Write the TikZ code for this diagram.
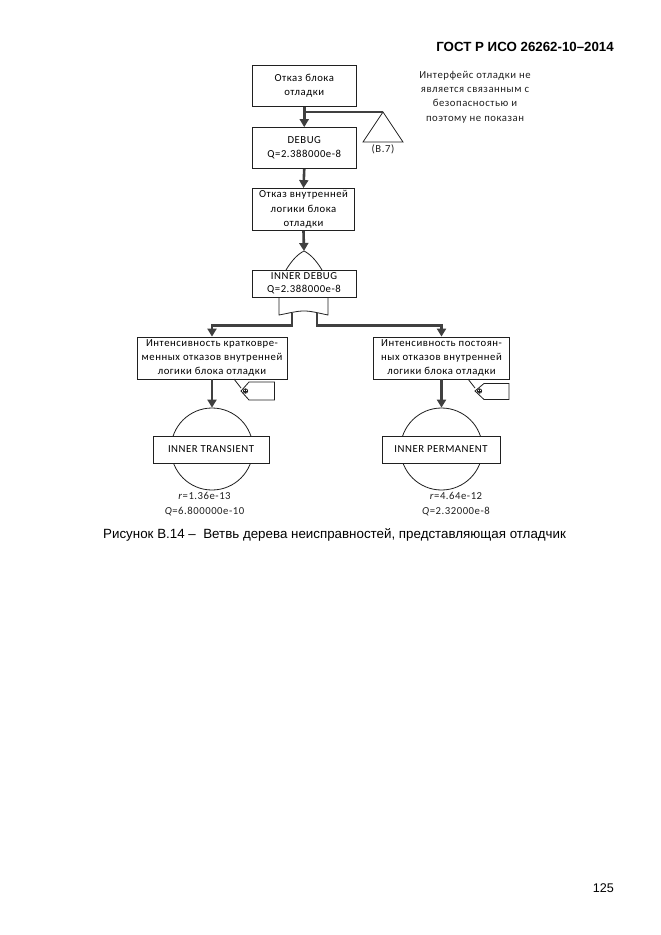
\documentclass[tikz,border=0pt]{standalone}
\usepackage{fontspec}
\setmainfont{Liberation Sans}
\newfontfamily\dia[LetterSpace=5]{Carlito}
\usetikzlibrary{arrows.meta,calc}
\definecolor{wire}{HTML}{404040}
\definecolor{thin}{HTML}{202020}
\tikzset{
  px/.style={x=1pt,y=-1pt},
  box/.style={draw=thin,line width=0.8pt,fill=white,align=center,inner sep=0pt,font=\dia\fontsize{10.7}{14.4}\selectfont},
  lbl/.style={inner sep=0pt,align=center,text=thin,font=\dia\fontsize{10.7}{14.4}\selectfont},
  wireline/.style={draw=wire,line width=2.6pt},
  arrowwire/.style={wireline,-{Triangle[width=9pt,length=8pt]}},
  gate/.style={draw=thin,line width=0.8pt},
  sans/.style={inner sep=0pt,text=black}
}
\begin{document}
\begin{tikzpicture}[px]
\useasboundingbox (0,0) rectangle (661,935);
\fill[white] (0,0) rectangle (661,935);
% header, caption, page number
\node[sans,anchor=east,font=\bfseries\fontsize{13.3}{15}\selectfont] (head) at (614,47) {ГОСТ Р ИСО 26262-10–2014};
\node[sans,anchor=west,font=\fontsize{13.35}{15}\selectfont] (cap) at (103,535) {Рисунок В.14 –\ \ Ветвь дерева неисправностей, представляющая отладчик};
\node[sans,anchor=east,font=\fontsize{12.6}{15}\selectfont] (pg) at (614,888) {125};
% note
\node[lbl] (note) at (475,97) {Интерфейс отладки не\\является связанным с\\безопасностью и\\поэтому не показан};
% circles (under the boxes)
\node[draw=thin,line width=0.8pt,circle,minimum size=82pt,inner sep=0pt] (ct) at (212,449) {};
\node[draw=thin,line width=0.8pt,circle,minimum size=82pt,inner sep=0pt] (cp) at (441.5,449) {};
% gates
\coordinate (andtop) at (304,251);
\draw[gate] (286,270) .. controls (292,260) and (298,254) .. (andtop) .. controls (310,254) and (316,260) .. (322,270);
\coordinate (orL) at (279,297);
\coordinate (orR) at (328,297);
\draw[gate] (orL) -- (279,315) .. controls (290,313) and (296,311) .. (304,311) .. controls (312,311) and (318,313) .. (328,315) -- (orR);
\coordinate (orOutL) at (292,313);
\coordinate (orOutR) at (317,313);
\coordinate (triTop) at (383,112);
% boxes
\node[box,minimum width=103.5pt,minimum height=41.5pt] (b1) at (304.25,85.75) {Отказ блока\\отладки};
\node[box,minimum width=103.5pt,minimum height=41pt] (b2) at (304.25,148) {DEBUG\\Q=2.388000e-8};
\node[box,minimum width=102pt,minimum height=42pt] (b3) at (303.5,209.5) {Отказ внутренней\\логики блока\\отладки};
\node[box,minimum width=104pt,minimum height=27pt] (b4) at (304,283.5) {INNER DEBUG\\[-1pt]Q=2.388000e-8};
\node[box,minimum width=150pt,minimum height=42pt] (b5) at (212,358) {Интенсивность кратковре-\\менных отказов внутренней\\логики блока отладки};
\node[box,minimum width=136pt,minimum height=42pt] (b6) at (441.5,358) {Интенсивность постоян-\\ных отказов внутренней\\логики блока отладки};
\node[box,minimum width=116pt,minimum height=27pt] (e1) at (211,449.5) {INNER TRANSIENT};
\node[box,minimum width=118pt,minimum height=27pt] (e2) at (441,449.5) {INNER PERMANENT};
% values
\node[lbl] (v1) at (204.5,504) {\textit{r}=1.36e-13\\\textit{Q}=6.800000e-10};
\node[lbl] (v2) at (456,504) {\textit{r}=4.64e-12\\\textit{Q}=2.32000e-8};
% triangle
\draw[gate] (triTop) -- (363,142) -- (403,142) -- cycle;
\node[lbl] (tl) at (383,149.5) {(В.7)};
% connectors
\draw[arrowwire] (b1.south) -- (b2.north);
\draw[wireline] (304,112) -- (triTop);
\draw[arrowwire] (b2.south) -- (b3.north);
\draw[arrowwire] (b3.south) -- (andtop);
\draw[arrowwire] (orOutL) |- (212,325.5) -- (b5.north);
\draw[arrowwire] (orOutR) |- (441.5,325.5) -- (b6.north);
\draw[arrowwire] (b5.south) -- (ct.north);
\draw[arrowwire] (b6.south) -- (cp.north);
% tags
\draw[gate] (234,379) -- (241,388);
\draw[gate,fill=white] (241,391) -- (249,382) -- (274.5,382) -- (274.5,400) -- (249,400) -- cycle;
\draw[gate] (245.5,391) circle (2.2pt);
\draw[gate] (243.5,391) -- (247.5,391) (245.5,389) -- (245.5,393);
\draw[gate] (468,379) -- (475,388);
\draw[gate,fill=white] (475,391) -- (484,383.5) -- (509,383.5) -- (509,399.5) -- (484,399.5) -- cycle;
\draw[gate] (479.5,391) circle (2.2pt);
\draw[gate] (477.5,391) -- (481.5,391) (479.5,389) -- (479.5,393);
\end{tikzpicture}
\end{document}
